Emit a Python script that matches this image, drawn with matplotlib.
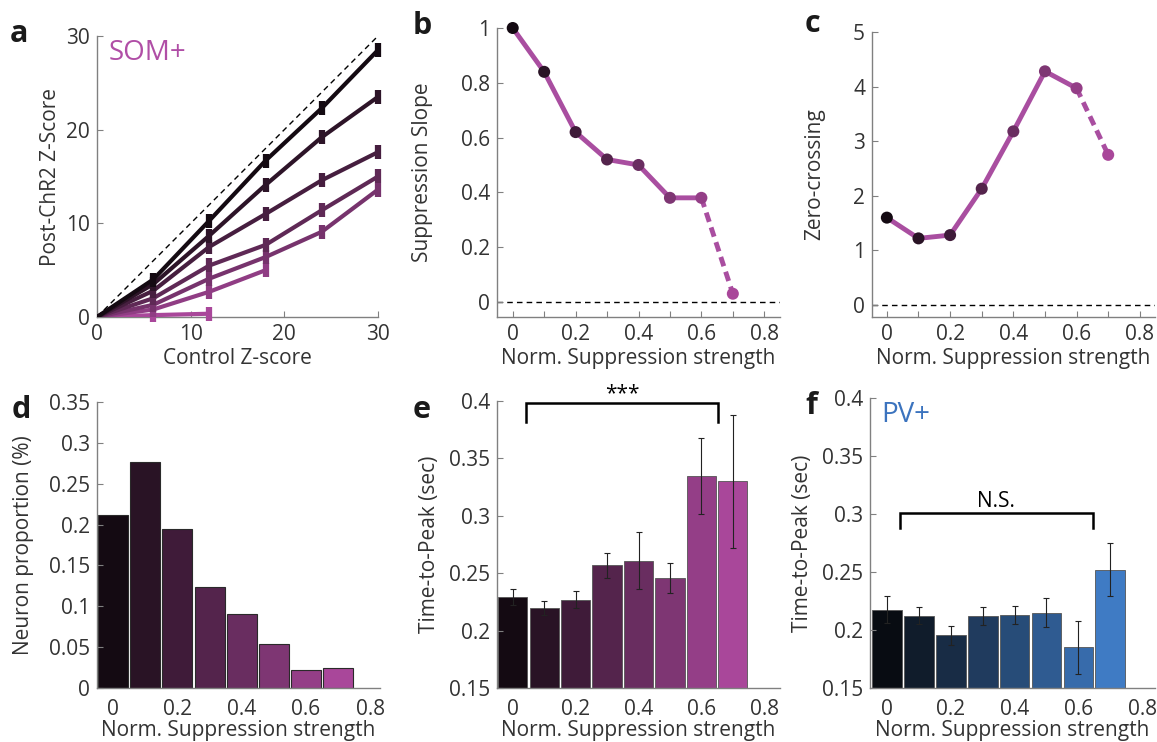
import numpy as np
import matplotlib
matplotlib.use("Agg")
import matplotlib.pyplot as plt
from matplotlib.colors import LinearSegmentedColormap

plt.rcParams['font.family'] = ['Open Sans', 'DejaVu Sans']

# ---- data ----
# panel a: control z-score vs post-ChR2 z-score, one line per suppression group
ctrl_z = [0, 6, 12, 18, 24, 30]
post_z = [
    [0, 4.0, 10.3, 16.7, 22.3, 28.5],
    [0, 3.5, 8.7, 14.1, 19.2, 23.5],
    [0, 2.8, 7.5, 11.0, 14.6, 17.6],
    [0, 2.0, 5.5, 7.7, 11.4, 15.0],
    [0, 1.3, 4.1, 6.4, 9.1, 13.6],
    [0, 0.8, 2.7, 5.0],
    [0, 0.2, 0.35],
]

# panels b-f share the suppression-strength bins
supp = [0, 0.1, 0.2, 0.3, 0.4, 0.5, 0.6, 0.7]
slope = [1.0, 0.84, 0.62, 0.52, 0.50, 0.38, 0.38, 0.03]
zero_cross = [1.60, 1.22, 1.28, 2.13, 3.18, 4.28, 3.97, 2.75]
proportion = [0.212, 0.276, 0.195, 0.123, 0.091, 0.054, 0.022, 0.025]
ttp_som = [0.229, 0.220, 0.227, 0.257, 0.261, 0.246, 0.335, 0.330]
ttp_som_err = [0.007, 0.006, 0.0075, 0.011, 0.025, 0.013, 0.033, 0.058]
ttp_pv = [0.2175, 0.2125, 0.1955, 0.212, 0.213, 0.215, 0.185, 0.252]
ttp_pv_err = [0.0115, 0.007, 0.008, 0.008, 0.008, 0.0125, 0.023, 0.023]

# ---- styling ----
W, H = 1157, 742
som_cmap = LinearSegmentedColormap.from_list('som', ['#140a12', '#a9479a'])
pv_cmap = LinearSegmentedColormap.from_list('pv', ['#080c12', '#3f7bc4'])
som_col = som_cmap(np.linspace(0, 1, len(supp)))
pv_col = pv_cmap(np.linspace(0, 1, len(supp)))
line_pink = '#a94ea0'
spine_gray = '#808080'
txt = '#333333'
fs = 15
lab_fs = 15

fig = plt.figure(figsize=(W / 100, H / 100), dpi=100)


def add_ax(l, t, r, b):
    ax = fig.add_axes([l / W, 1 - b / H, (r - l) / W, (b - t) / H])
    for s in ['top', 'right']:
        ax.spines[s].set_visible(False)
    for s in ['left', 'bottom']:
        ax.spines[s].set_color(spine_gray)
        ax.spines[s].set_linewidth(1)
    ax.tick_params(direction='in', length=4, color=spine_gray, labelsize=fs,
                   labelcolor=txt, pad=5)
    return ax


def fmt(v, _=None):
    return '%g' % v


# a
ax = add_ax(97, 36, 378, 317)
ax.plot([0, 30], [0, 30], color='k', lw=1, ls=(0, (4, 3)), zorder=1)
acol = som_cmap(np.linspace(0, 1, len(post_z)))
for i, ys in enumerate(post_z):
    xs = ctrl_z[:len(ys)]
    ax.plot(xs, ys, color=acol[i], lw=3, zorder=3 + len(post_z) - i)
    ax.plot(xs[1:], ys[1:], ls='none', marker='|', ms=10, mew=4.5,
            color=acol[i], zorder=3 + len(post_z) - i, clip_on=False)
ax.set_xlim(0, 30)
ax.set_ylim(0, 30)
ax.set_xticks([0, 10, 20, 30])
ax.set_yticks([0, 10, 20, 30])
ax.set_xlabel('Control Z-score', fontsize=lab_fs, color=txt, labelpad=2)
ax.set_ylabel('Post-ChR2 Z-Score', fontsize=lab_fs, color=txt, labelpad=4)
ax.text(0.04, 0.99, 'SOM+', transform=ax.transAxes, fontsize=20,
        color='#b04ea6', va='top', ha='left')


def line_panel(ax, y):
    ax.plot(supp[:-1], y[:-1], color=line_pink, lw=3.5, zorder=2, clip_on=False)
    ax.plot(supp[-2:], y[-2:], color=line_pink, lw=3.5, ls=(0, (2, 1.2)), zorder=2)
    ax.scatter(supp, y, s=75, c=som_col, zorder=3, edgecolors='none', clip_on=False)
    ax.axhline(0, color='k', lw=1, ls=(0, (4, 3)), zorder=1)
    ax.set_xticks(np.arange(0, 0.81, 0.1))
    ax.set_xticklabels([fmt(v) if i % 2 == 0 else '' for i, v in
                        enumerate(np.round(np.arange(0, 0.81, 0.1), 1))])
    ax.set_xlabel('Norm. Suppression strength', fontsize=lab_fs, color=txt, labelpad=2)


# b
ax = add_ax(497, 28, 780, 317)
line_panel(ax, slope)
ax.set_xlim(-0.05, 0.85)
ax.set_ylim(-0.055, 1.0)
ax.set_yticks([0, 0.2, 0.4, 0.6, 0.8, 1.0])
ax.yaxis.set_major_formatter(fmt)
ax.set_ylabel('Suppression Slope', fontsize=lab_fs, color=txt, labelpad=20)

# c
ax = add_ax(872, 32, 1155, 317)
line_panel(ax, zero_cross)
ax.set_xlim(-0.047, 0.848)
ax.set_ylim(-0.22, 5)
ax.set_yticks([0, 1, 2, 3, 4, 5])
ax.set_ylabel('Zero-crossing', fontsize=lab_fs, color=txt, labelpad=20)

# d
ax = add_ax(97, 402, 380, 688)
ax.bar(supp, proportion, width=0.093, color=som_col, edgecolor='#2a2a2a', lw=0.8)
ax.set_xlim(-0.05, 0.83)
ax.set_ylim(0, 0.35)
ax.set_xticks([0, 0.2, 0.4, 0.6, 0.8])
ax.xaxis.set_major_formatter(fmt)
ax.set_yticks(np.arange(0, 0.351, 0.05))
ax.yaxis.set_major_formatter(fmt)
ax.tick_params(axis='x', length=0, pad=8)
ax.set_xlabel('Norm. Suppression strength', fontsize=lab_fs, color=txt, labelpad=0)
ax.set_ylabel('Neuron proportion (%)', fontsize=lab_fs, color=txt, labelpad=11)


def ttp_panel(ax, y, err, cols):
    ax.bar(supp, [v - 0.15 for v in y], bottom=0.15, width=0.093, color=cols,
           edgecolor='#555555', lw=0.6)
    ax.errorbar(supp, y, yerr=err, ls='none', ecolor='#222222', elinewidth=0.8,
                capsize=2.5, capthick=0.8)
    ax.set_ylim(0.15, 0.4)
    ax.set_xticks([0, 0.2, 0.4, 0.6, 0.8])
    ax.xaxis.set_major_formatter(fmt)
    ax.set_yticks(np.arange(0.15, 0.401, 0.05))
    ax.yaxis.set_major_formatter(lambda v, _=None: '%g' % round(v, 2))
    ax.tick_params(axis='x', length=0, pad=8)
    ax.set_xlabel('Norm. Suppression strength', fontsize=lab_fs, color=txt, labelpad=0)
    ax.set_ylabel('Time-to-Peak (sec)', fontsize=lab_fs, color=txt, labelpad=6)


def bracket(ax, x0, x1, ytop, ybot, label, ty):
    ax.plot([x0, x0, x1, x1], [ybot, ytop, ytop, ybot], color='k', lw=1.8,
            clip_on=False, solid_joinstyle='miter')
    ax.text((x0 + x1) / 2, ty, label, ha='center', va='bottom', fontsize=15,
            color='k', clip_on=False)


# e
ax = add_ax(497, 401, 780, 688)
ttp_panel(ax, ttp_som, ttp_som_err, som_col)
ax.set_xlim(-0.05, 0.85)
bracket(ax, 0.043, 0.652, 0.398, 0.382, '***', 0.397)

# f
ax = add_ax(870, 398, 1155, 688)
ttp_panel(ax, ttp_pv, ttp_pv_err, pv_col)
ax.set_xlim(-0.053, 0.84)
bracket(ax, 0.041, 0.645, 0.301, 0.288, 'N.S.', 0.302)
ax.text(0.04, 0.99, 'PV+', transform=ax.transAxes, fontsize=20,
        color='#3b73be', va='top', ha='left')

# panel letters
for lt, x, y in [('a', 10, 34), ('b', 413, 26), ('c', 805, 24),
                 ('d', 12, 410), ('e', 413, 410), ('f', 805, 406)]:
    fig.text(x / W, 1 - y / H, lt, fontsize=22, fontweight='bold', color='#1a1a1a',
             ha='left', va='center')

fig.savefig('out.png', dpi=100)
